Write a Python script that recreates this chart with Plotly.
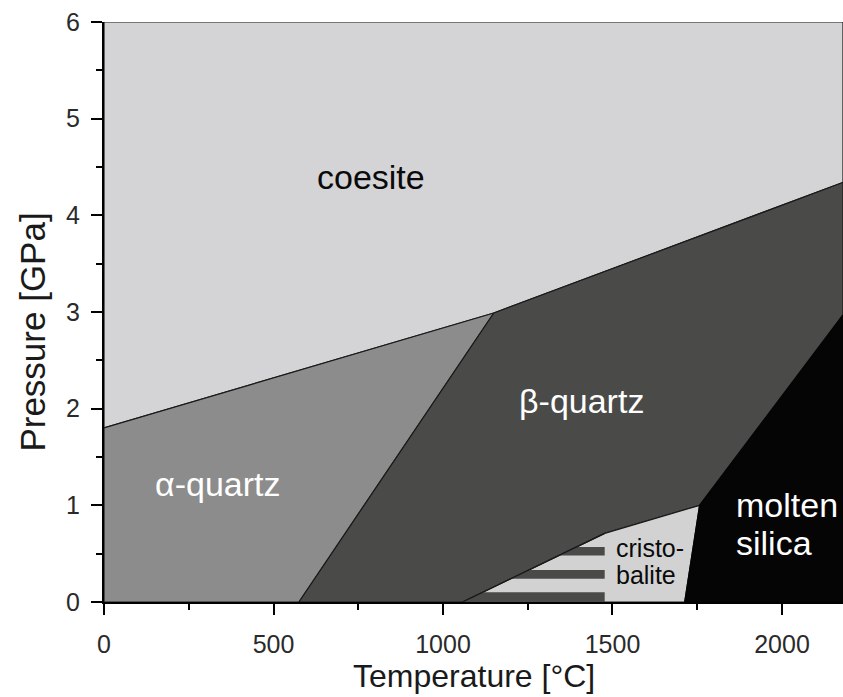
import numpy as np
import plotly.graph_objects as go

# ---- data (boundary vertices, T in °C, P in GPa) ----
T_MAX = 2180
P_MAX = 6
coesite_T = [0, 1150, 2180, 2180, 0]
coesite_P = [1.8, 2.99, 4.34, 6, 6]
alpha_T = [0, 575, 1150, 0]
alpha_P = [0, 0, 2.99, 1.8]
beta_T = [575, 1058, 1477, 1757, 2180, 2180, 1150]
beta_P = [0, 0, 0.71, 1.0, 2.97, 4.34, 2.99]
crist_T = [1058, 1713, 1757, 1477]
crist_P = [0, 0, 1.0, 0.71]
molten_T = [1713, 2180, 2180, 1757]
molten_P = [0, 0, 2.97, 1.0]
# beta/cristobalite boundary (lower part) and striped bands
bc_T = [1058, 1477]
bc_P = [0, 0.71]
stripe_right_T = 1477
dark_bands = [(0.0, 0.10), (0.24, 0.33), (0.48, 0.57)]

x_ticks = [0, 500, 1000, 1500, 2000]
y_ticks = [0, 1, 2, 3, 4, 5, 6]

C_COES = "#d4d4d6"
C_ALPHA = "#8c8c8c"
C_BETA = "#4a4a48"
C_CRIST = "#d2d2d2"
C_MOLT = "#050505"
EDGE = "#1a1a1a"

fig = go.Figure()


def poly(xs, ys, color, lw=1.2, lc=EDGE):
    fig.add_trace(go.Scatter(x=list(xs) + [xs[0]], y=list(ys) + [ys[0]], mode="lines",
                             fill="toself", fillcolor=color,
                             line=dict(color=lc, width=lw), hoverinfo="skip", showlegend=False))


poly(coesite_T, coesite_P, C_COES)
poly(alpha_T, alpha_P, C_ALPHA)
poly(beta_T, beta_P, C_BETA)
poly(crist_T, crist_P, C_CRIST)
poly(molten_T, molten_P, C_MOLT, lc=C_MOLT)

# stripes clipped by the beta/cristobalite boundary
for y0, y1 in dark_bands:
    x0 = float(np.interp(y0, bc_P, bc_T))
    x1 = float(np.interp(y1, bc_P, bc_T))
    poly([x0, stripe_right_T, stripe_right_T, x1], [y0, y0, y1, y1], C_BETA, lw=0, lc=C_BETA)

# boundary redraw on top
fig.add_trace(go.Scatter(x=bc_T, y=bc_P, mode="lines", line=dict(color=EDGE, width=1.2),
                         hoverinfo="skip", showlegend=False))

FONT = "Liberation Sans, Arial, sans-serif"


def label(x, y, text, color, size, anchor="center"):
    fig.add_annotation(x=x, y=y, xref="x", yref="y", text=text, showarrow=False,
                       xanchor=anchor, yanchor="middle",
                       font=dict(family=FONT, size=size, color=color))


label(788, 4.40, "coesite", "#0a0a0a", 34)
label(336, 1.22, "α-quartz", "white", 34)
label(1410, 2.08, "β-quartz", "white", 34)
label(1858, 1.00, "molten", "white", 34, "left")
label(1858, 0.61, "silica", "white", 34, "left")
label(1505, 0.56, "cristo-", "#0a0a0a", 25, "left")
label(1505, 0.28, "balite", "#0a0a0a", 25, "left")

# axis titles
fig.add_annotation(x=0.5, y=-0.128, xref="paper", yref="paper", text="Temperature [°C]",
                   showarrow=False, xanchor="center", yanchor="middle",
                   font=dict(family=FONT, size=32, color="#1a1a1a"))
fig.add_annotation(x=-0.097, y=0.465, xref="paper", yref="paper", text="Pressure [GPa]",
                   textangle=-90, showarrow=False, xanchor="center", yanchor="middle",
                   font=dict(family=FONT, size=35, color="#1a1a1a"))

axis_common = dict(showline=True, linecolor="black", linewidth=2, ticks="outside",
                   ticklen=11, tickwidth=1.5, tickcolor="black", showgrid=False,
                   zeroline=False, tickfont=dict(family=FONT, size=25, color="#2a2a2a"))

fig.update_xaxes(range=[0, T_MAX], tickvals=x_ticks, ticklabelstandoff=8,
                 minor=dict(ticks="outside", ticklen=6, tickwidth=1.5, tickcolor="black",
                            tickvals=[250, 750, 1250, 1750], showgrid=False),
                 **axis_common)
fig.update_yaxes(range=[0, P_MAX], tickvals=y_ticks, ticklabelstandoff=6,
                 minor=dict(ticks="outside", ticklen=6, tickwidth=1.5, tickcolor="black",
                            tickvals=[0.5, 1.5, 2.5, 3.5, 4.5, 5.5], showgrid=False),
                 **axis_common)

fig.update_layout(width=843, height=697, margin=dict(l=104, r=0, t=22, b=95),
                  plot_bgcolor="white", paper_bgcolor="white", showlegend=False)

fig.write_html("out.html")
